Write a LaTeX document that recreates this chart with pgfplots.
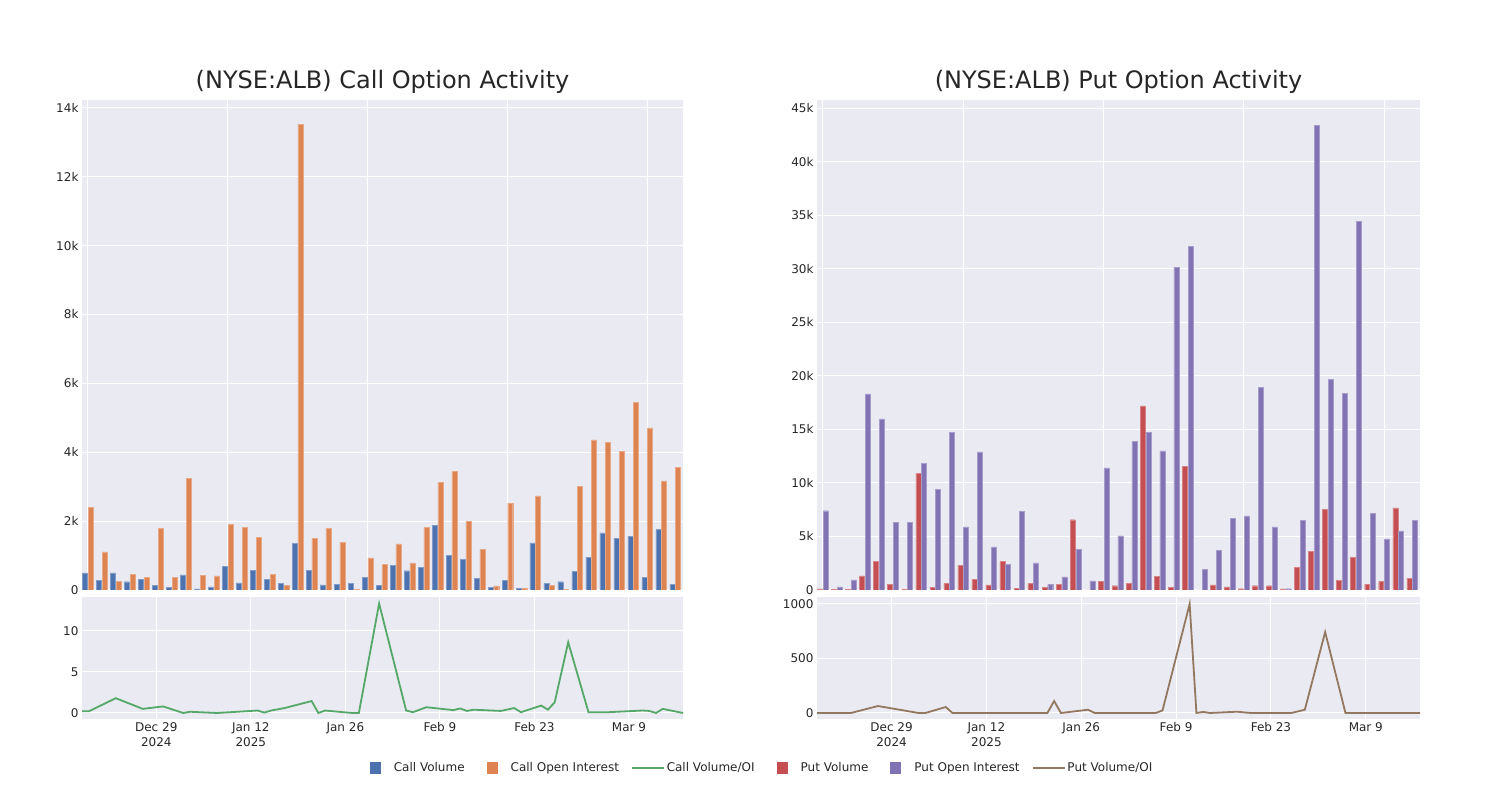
\documentclass[border=0pt]{standalone}
\usepackage{fontspec}
\setmainfont{DejaVu Sans}
\usepackage{pgfplots}
\usepackage{pgfplotstable}
\pgfplotsset{compat=1.18}

\definecolor{bgc}{HTML}{EAEAF2}
\definecolor{txt}{HTML}{262626}
\definecolor{cvol}{HTML}{4C72B0}
\definecolor{coi}{HTML}{DD8452}
\definecolor{cratio}{HTML}{55A868}
\definecolor{pvol}{HTML}{C44E52}
\definecolor{poi}{HTML}{8172B3}
\definecolor{pratio}{HTML}{937860}

% one row per trading day (bars are drawn by position)
\pgfplotstableread{
x cv coi pv poi
0 500 2390 100 7400
1 280 1110 30 300
2 500 250 60 940
3 240 460 1310 18300
4 310 360 2690 15970
5 140 1790 500 6340
6 80 360 60 6310
7 440 3250 10900 11800
8 30 430 250 9380
9 90 410 620 14750
10 680 1900 2280 5900
11 210 1820 970 12900
12 580 1530 470 4030
13 300 450 2660 2370
14 190 130 160 7340
15 1350 13520 590 2530
16 570 1500 220 500
17 150 1790 530 1220
18 170 1390 6560 3810
19 200 10 0 840
20 360 930 810 11400
21 140 740 400 5060
22 720 1340 620 13850
23 560 790 17200 14700
24 650 1820 1300 13000
25 1870 3120 220 30150
26 1010 3440 11550 32100
27 900 1990 0 1960
28 340 1180 470 3730
29 70 120 280 6700
30 290 2520 120 6930
31 40 40 400 18940
32 1370 2730 400 5900
33 190 130 100 120
34 240 20 2110 6520
35 540 3000 3630 43400
36 950 4360 7520 19700
37 1660 4280 870 18350
38 1500 4030 3070 34400
39 1550 5440 530 7140
40 370 4710 780 4780
41 1760 3170 7670 5530
42 160 3560 1090 6520
}\bars

% day 0 = Dec 18 2024
\pgfplotstableread{
d r
0 0.2
1 0.2
5 1.8
9 0.5
12 0.8
15 0.0
16 0.15
20 0.0
26 0.3
27 0.05
28 0.3
30 0.6
34 1.45
35 0.0
36 0.3
40 0.0
41 0.0
44 13.3
48 0.3
49 0.1
51 0.7
55 0.35
56 0.55
57 0.25
58 0.4
62 0.25
64 0.6
65 0.1
68 0.9
69 0.4
70 1.3
72 8.6
75 0.1
78 0.1
83 0.3
84 0.25
85 0.0
86 0.5
89 0.0
}\callratio

\pgfplotstableread{
d r
0 0
5 0
9 64
15 0
16 0
19 55
20 0
34 0
35 110
36 0
40 30
41 0
50 0
51 24
55 1000
56 0
57 10
58 0
62 12
64 0
70 0
72 30
75 742
78 0
89 0
}\putratio

\pgfplotsset{
  sns/.style={
    scale only axis,
    anchor=south west,
    axis background/.style={fill=bgc},
    axis line style={draw=none},
    major tick length=0pt,
    grid=major,
    major grid style={white, line width=1pt},
    tick label style={font=\fontsize{12}{15}\selectfont, text=txt},
    /pgf/number format/assume math mode=true,
    /pgf/number format/1000 sep={},
    scaled y ticks=false,
    title style={font=\fontsize{24}{28}\selectfont, text=txt, yshift=-3pt},
    clip=true,
  },
  topbars/.style={sns, width=601pt, height=490pt, ymin=0,
    xmin=-0.42, xmax=42.56, xtick={0,10,20,30,40}, xticklabels={}},
  lower/.style={sns, width=601pt, height=122pt, xmin=0, xmax=89,
    xtick={11,25,39,53,67,81},
    xticklabels={{Dec 29\\2024},{Jan 12\\2025},Jan 26,Feb 9,Feb 23,Mar 9},
    xticklabel style={align=center}},
  sq/.style={legend image code/.code={
    \path[draw=none, fill=none] (0pt,-6pt) rectangle (32pt,6pt);
    \fill[#1, draw=none] (10pt,-6pt) rectangle (21pt,6pt);}},
  ln/.style={legend image code/.code={
    \path[draw=none, fill=none] (0pt,-6pt) rectangle (32pt,6pt);
    \draw[#1, line width=1.8pt] (0pt,0pt) -- (32pt,0pt);}},
}

\begin{document}
\begin{tikzpicture}
\path[use as bounding box] (0,0) rectangle (1500pt,800pt);

% call bars
\begin{axis}[topbars, at={(82pt,210pt)}, ymax=14230,
  ytick={0,2000,4000,6000,8000,10000,12000,14000},
  yticklabels={0,2k,4k,6k,8k,10k,12k,14k},
  title={(NYSE:ALB) Call Option Activity}]
\addplot[ybar, bar width=5pt, bar shift=-2.85pt, fill=cvol, draw=cvol!70!white, line width=0.4pt] table[x=x, y=cv] {\bars};
\addplot[ybar, bar width=5pt, bar shift=2.85pt, fill=coi, draw=coi!70!white, line width=0.4pt] table[x=x, y=coi] {\bars};
\end{axis}

% call ratio
\begin{axis}[lower, at={(82pt,81pt)}, ymin=-0.73, ymax=14.1, ytick={0,5,10},
  legend style={at={(1.1232,-0.40)}, anchor=center, draw=none, fill=none,
    legend columns=6, font=\fontsize{12}{15}\selectfont, text=txt,
    /tikz/every even column/.append style={column sep=10pt}}]
\addplot[cratio, line width=1.8pt, forget plot] table[x=d, y=r] {\callratio};
\addlegendimage{sq=cvol}
\addlegendentry{Call Volume}
\addlegendimage{sq=coi}
\addlegendentry{Call Open Interest}
\addlegendimage{ln=cratio}
\addlegendentry{Call Volume/OI}
\addlegendimage{sq=pvol}
\addlegendentry{Put Volume}
\addlegendimage{sq=poi}
\addlegendentry{Put Open Interest}
\addlegendimage{ln=pratio}
\addlegendentry{Put Volume/OI}
\end{axis}

% put bars
\begin{axis}[topbars, at={(817pt,210pt)}, width=603pt, ymax=45750,
  ytick={0,5000,10000,15000,20000,25000,30000,35000,40000,45000},
  yticklabels={0,5k,10k,15k,20k,25k,30k,35k,40k,45k},
  title={(NYSE:ALB) Put Option Activity}]
\addplot[ybar, bar width=5pt, bar shift=-2.85pt, fill=pvol, draw=pvol!70!white, line width=0.4pt] table[x=x, y=pv] {\bars};
\addplot[ybar, bar width=5pt, bar shift=2.85pt, fill=poi, draw=poi!70!white, line width=0.4pt] table[x=x, y=poi] {\bars};
\end{axis}

% put ratio
\begin{axis}[lower, at={(817pt,81pt)}, width=603pt, ymin=-55, ymax=1064, ytick={0,500,1000}]
\addplot[pratio, line width=1.8pt] table[x=d, y=r] {\putratio};
\end{axis}
\end{tikzpicture}
\end{document}
